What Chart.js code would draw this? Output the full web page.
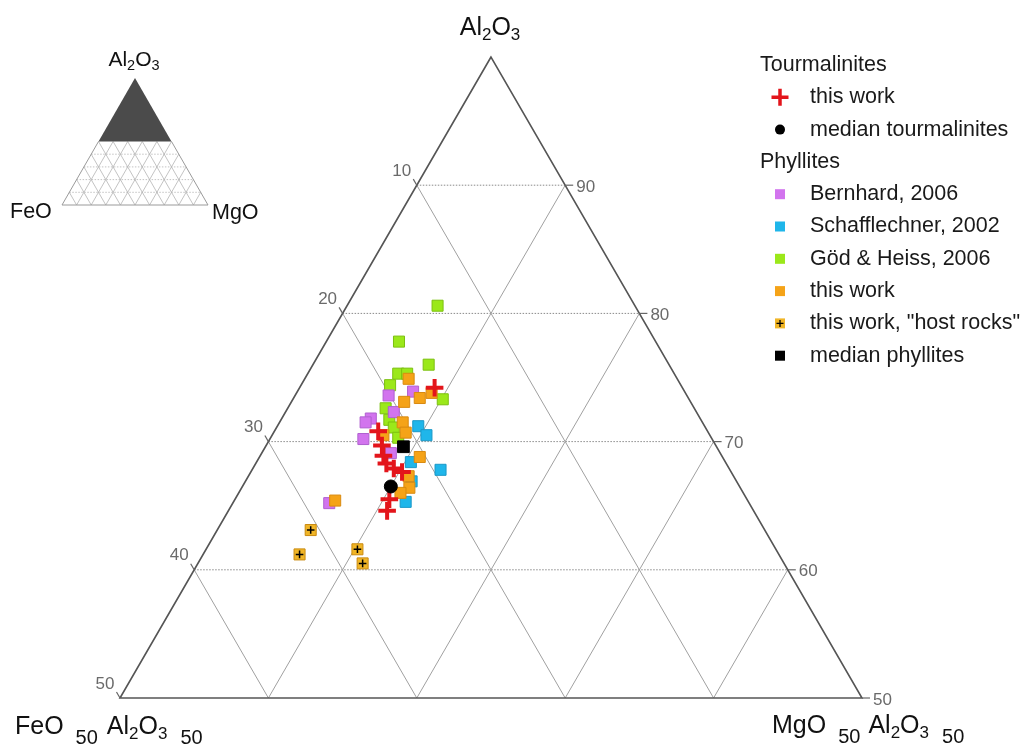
<!DOCTYPE html>
<html>
<head>
<meta charset="utf-8">
<script src="https://cdn.jsdelivr.net/npm/chart.js@4.4.0/dist/chart.umd.min.js"></script>
<style>
html,body{margin:0;padding:0;background:#ffffff;}
#wrap{width:1027px;height:747px;position:relative;}
</style>
</head>
<body>
<div id="wrap"><canvas id="c" width="1027" height="747"></canvas></div>
<script>
// ---- DATA: compositions as [FeO, MgO, Al2O3] (normalised %) ----
const tourmalinitesThisWork = [
  [16.7,9.1,74.2],[22.2,7.0,70.8],[22.5,7.8,69.7],[22.8,8.3,68.9],[22.9,8.8,68.3],
  [22.6,9.5,67.9],[22.2,10.2,67.7],[24.1,10.4,65.5],[24.7,10.7,64.6]
];
const medianTourmalinites = [[23.5,10.0,66.5]];
const bernhard2006 = [
  [20.1,6.3,73.6],[18.3,7.8,73.9],[20.4,7.3,72.3],[22.2,6.0,71.8],[22.7,5.8,71.5],
  [23.5,6.3,70.2],[22.2,8.7,69.1],[28.3,6.5,65.2]
];
const schafflechner2002 = [
  [19.3,9.5,71.2],[19.1,10.4,70.5],[19.5,12.7,67.8],[21.2,10.4,68.4],[21.9,11.2,66.9],[23.1,11.6,65.3]
];
const godHeiss2006 = [
  [13.3,6.1,80.6],[17.3,4.9,77.8],[16.2,7.8,76.0],[18.6,6.1,75.3],[18.0,6.7,75.3],
  [19.6,6.0,74.4],[16.6,10.1,73.3],[20.8,6.6,72.6],[21.0,7.3,71.7],[21.0,7.9,71.1],[21.1,8.6,70.3]
];
const phyllitesThisWork = [
  [18.1,7.0,74.9],[17.1,9.1,73.8],[18.1,8.5,73.4],[19.3,7.6,73.1],[20.2,8.3,71.5],[20.4,8.9,70.7],
  [22.0,7.5,70.5],[20.4,10.8,68.8],[21.9,10.8,67.3],[22.3,11.3,66.4],[23.1,10.9,66.0],[27.8,6.8,65.4]
];
const hostRocks = [[30.6,6.3,63.1],[32.3,6.5,61.2],[28.2,10.2,61.6],[28.4,11.1,60.5]];
const medianPhyllites = [[21.1,9.3,69.6]];

// grid / tick values
const al2o3GridLines = [90,80,70,60];
const feoGridLines = [10,20,30,40];
const mgoGridLines = [10,20,30,40];
const leftTickLabels = [10,20,30,40,50];   // FeO along left edge
const rightTickLabels = [90,80,70,60,50];  // Al2O3 along right edge

const FONT = '"Liberation Sans", Arial, Helvetica, sans-serif';

function toXY(c){ const s=c[0]+c[1]+c[2]; return {x:(c[1]-c[0])*100/s, y:c[2]*100/s}; }

const COL = {
  red:'#e3151b', purple:'#d274ee', blue:'#1fb6ea', green:'#9be81a', orange:'#f5a318', host:'#f0b526'
};

function P(chart,F,M,A){
  const s=F+M+A;
  return [chart.scales.x.getPixelForValue((M-F)*100/s), chart.scales.y.getPixelForValue(A*100/s)];
}

function drawRich(ctx, parts, x, y, align){
  const widths = parts.map(p=>{ctx.font=p[1]+'px '+FONT; return ctx.measureText(p[0]).width;});
  let total=0; parts.forEach((p,i)=>{ total += widths[i] + (p[3]||0); });
  let cx = align==='center' ? x-total/2 : x;
  ctx.textAlign='left'; ctx.textBaseline='alphabetic';
  parts.forEach((p,i)=>{ cx += (p[3]||0); ctx.font=p[1]+'px '+FONT; ctx.fillText(p[0], cx, y+(p[2]||0)); cx += widths[i]; });
}

const ternaryFrame = {
  id:'ternaryFrame',
  beforeDatasetsDraw(chart){
    const ctx=chart.ctx;
    ctx.save();
    // horizontal (Al2O3) grid lines, dotted
    ctx.strokeStyle='#8a8a8a'; ctx.lineWidth=1; ctx.setLineDash([1.5,1.5]);
    al2o3GridLines.forEach(a=>{
      const p1=P(chart,100-a,0,a), p2=P(chart,0,100-a,a);
      ctx.beginPath(); ctx.moveTo(p1[0],p1[1]); ctx.lineTo(p2[0],p2[1]); ctx.stroke();
    });
    // diagonal grid lines
    ctx.setLineDash([]); ctx.strokeStyle='#a0a0a0'; ctx.lineWidth=1;
    feoGridLines.forEach(f=>{
      const p1=P(chart,f,0,100-f), p2=P(chart,f,50-f,50);
      ctx.beginPath(); ctx.moveTo(p1[0],p1[1]); ctx.lineTo(p2[0],p2[1]); ctx.stroke();
    });
    mgoGridLines.forEach(m=>{
      const p1=P(chart,0,m,100-m), p2=P(chart,50-m,m,50);
      ctx.beginPath(); ctx.moveTo(p1[0],p1[1]); ctx.lineTo(p2[0],p2[1]); ctx.stroke();
    });
    // outline
    const T=P(chart,0,0,100), L=P(chart,50,0,50), R=P(chart,0,50,50);
    ctx.strokeStyle='#555555'; ctx.lineWidth=1.6;
    ctx.beginPath(); ctx.moveTo(T[0],T[1]); ctx.lineTo(L[0],L[1]); ctx.lineTo(R[0],R[1]); ctx.closePath(); ctx.stroke();
    // left ticks + labels
    ctx.fillStyle='#6a6a6a'; ctx.font='17px '+FONT; ctx.textAlign='center'; ctx.textBaseline='middle';
    ctx.strokeStyle='#666'; ctx.lineWidth=1.2;
    leftTickLabels.forEach(f=>{
      const e=P(chart,f,0,100-f), q=P(chart,f,10,90-f);
      const dx=e[0]-q[0], dy=e[1]-q[1], n=Math.hypot(dx,dy);
      ctx.beginPath(); ctx.moveTo(e[0],e[1]); ctx.lineTo(e[0]+dx/n*7,e[1]+dy/n*7); ctx.stroke();
      ctx.fillText(String(f), e[0]-15, e[1]-14);
    });
    ctx.textAlign='left';
    rightTickLabels.forEach(a=>{
      const e=P(chart,0,100-a,a);
      ctx.beginPath(); ctx.moveTo(e[0],e[1]); ctx.lineTo(e[0]+8,e[1]); ctx.stroke();
      ctx.fillText(String(a), e[0]+11, e[1]+2);
    });
    ctx.restore();
  },
  afterDraw(chart){
    const ctx=chart.ctx;
    ctx.save();
    ctx.fillStyle='#111';
    // apex & corner titles
    drawRich(ctx, [['Al',25,0],['2',17,5],['O',25,0],['3',17,5]], 490, 35, 'center');
    drawRich(ctx, [['FeO',25,0],['50',20,10,12],['Al',25,0,9],['2',17,5],['O',25,0],['3',17,5],['50',20,10,13]], 15, 734, 'left');
    drawRich(ctx, [['MgO',25,0],['50',20,10,12],['Al',25,0,8],['2',17,5],['O',25,0],['3',17,5],['50',20,10,13]], 772, 733, 'left');

    // inset triangle
    const iT=[135,78], iL=[62,205], iR=[208,205];
    const ip=(F,M,A)=>{const s=F+M+A; return [(F*iL[0]+M*iR[0]+A*iT[0])/s,(F*iL[1]+M*iR[1]+A*iT[1])/s];};
    ctx.strokeStyle='#b4b4b4'; ctx.lineWidth=0.8;
    for(let k=10;k<=90;k+=10){
      let a1=ip(k,100-k,0), a2 = (100-k>50)? ip(k,50-k,50) : ip(k,0,100-k);
      ctx.beginPath(); ctx.moveTo(a1[0],a1[1]); ctx.lineTo(a2[0],a2[1]); ctx.stroke();
      let b1=ip(100-k,k,0), b2 = (100-k>50)? ip(50-k,k,50) : ip(0,k,100-k);
      ctx.beginPath(); ctx.moveTo(b1[0],b1[1]); ctx.lineTo(b2[0],b2[1]); ctx.stroke();
    }
    ctx.setLineDash([1.5,1.5]);
    [10,20,30,40].forEach(a=>{ const c1=ip(100-a,0,a), c2=ip(0,100-a,a);
      ctx.beginPath(); ctx.moveTo(c1[0],c1[1]); ctx.lineTo(c2[0],c2[1]); ctx.stroke(); });
    ctx.setLineDash([]);
    ctx.strokeStyle='#9a9a9a'; ctx.lineWidth=1;
    const m1=ip(50,0,50), m2=ip(0,50,50);
    ctx.beginPath(); ctx.moveTo(m1[0],m1[1]); ctx.lineTo(iL[0],iL[1]); ctx.lineTo(iR[0],iR[1]); ctx.lineTo(m2[0],m2[1]); ctx.stroke();
    ctx.fillStyle='#4b4b4b';
    ctx.beginPath(); ctx.moveTo(iT[0],iT[1]); ctx.lineTo(m1[0],m1[1]); ctx.lineTo(m2[0],m2[1]); ctx.closePath(); ctx.fill();
    ctx.fillStyle='#111';
    drawRich(ctx, [['Al',21,0],['2',14.5,4],['O',21,0],['3',14.5,4]], 134, 66, 'center');
    drawRich(ctx, [['FeO',21.5,0]], 10, 218, 'left');
    drawRich(ctx, [['MgO',21.5,0]], 212, 219, 'left');

    // legend
    const lx=760, mx=780, tx=810, y0=65, dy=32.3;
    const rows=[
      {h:'Tourmalinites'},
      {t:'this work', m:'cross'},
      {t:'median tourmalinites', m:'dot'},
      {h:'Phyllites'},
      {t:'Bernhard, 2006', m:'sq', c:COL.purple},
      {t:'Schafflechner, 2002', m:'sq', c:COL.blue},
      {t:'Göd & Heiss, 2006', m:'sq', c:COL.green},
      {t:'this work', m:'sq', c:COL.orange},
      {t:'this work, "host rocks"', m:'host'},
      {t:'median phyllites', m:'sq', c:'#000'}
    ];
    ctx.font='21.5px '+FONT; ctx.textBaseline='middle'; ctx.textAlign='left';
    rows.forEach((r,i)=>{
      const y=y0+i*dy;
      ctx.fillStyle='#1a1a1a';
      if(r.h){ ctx.fillText(r.h, lx, y); return; }
      ctx.fillText(r.t, tx, y);
      if(r.m==='cross'){
        ctx.strokeStyle=COL.red; ctx.lineWidth=3.5;
        ctx.beginPath(); ctx.moveTo(mx-8.5,y); ctx.lineTo(mx+8.5,y); ctx.moveTo(mx,y-8.5); ctx.lineTo(mx,y+8.5); ctx.stroke();
      } else if(r.m==='dot'){
        ctx.fillStyle='#000'; ctx.beginPath(); ctx.arc(mx,y,5,0,Math.PI*2); ctx.fill();
      } else if(r.m==='sq'){
        ctx.fillStyle=r.c; ctx.fillRect(mx-5,y-5,10,10);
      } else if(r.m==='host'){
        ctx.fillStyle=COL.host; ctx.fillRect(mx-5,y-5,10,10);
        ctx.strokeStyle='#000'; ctx.lineWidth=1.3;
        ctx.beginPath(); ctx.moveTo(mx-3.5,y); ctx.lineTo(mx+3.5,y); ctx.moveTo(mx,y-3.5); ctx.lineTo(mx,y+3.5); ctx.stroke();
      }
    });
    ctx.restore();
  }
};

function sq(label, arr, color, border){
  return {label, data:arr.map(toXY), pointStyle:'rect', pointRadius:7.8, pointHoverRadius:7.8,
          backgroundColor:color, borderColor:border, borderWidth:1, showLine:false};
}

const datasets = [
  {label:'median phyllites', data:medianPhyllites.map(toXY), pointStyle:'rect', pointRadius:8.3, backgroundColor:'#000', borderColor:'#000', borderWidth:1},
  {label:'median tourmalinites', data:medianTourmalinites.map(toXY), pointStyle:'circle', pointRadius:6.5, backgroundColor:'#000', borderColor:'#000', borderWidth:1},
  {label:'this work (tourmalinites)', data:tourmalinitesThisWork.map(toXY), pointStyle:'cross', pointRadius:8.8, borderColor:COL.red, backgroundColor:COL.red, borderWidth:4},
  {label:'host rocks plus', data:hostRocks.map(toXY), pointStyle:'cross', pointRadius:3.8, borderColor:'#000', backgroundColor:'#000', borderWidth:1.5},
  sq('this work, "host rocks"', hostRocks, COL.host, '#c98a10'),
  sq('this work (phyllites)', phyllitesThisWork, COL.orange, '#d98a10'),
  sq('Schafflechner, 2002', schafflechner2002, COL.blue, '#1a98c8'),
  sq('Bernhard, 2006', bernhard2006, COL.purple, '#b060d0'),
  sq('Göd & Heiss, 2006', godHeiss2006, COL.green, '#7cc010')
];

new Chart(document.getElementById('c'), {
  type:'scatter',
  data:{datasets},
  options:{
    responsive:false, animation:false, devicePixelRatio:1,
    layout:{padding:0, autoPadding:false},
    plugins:{legend:{display:false}, tooltip:{enabled:false}},
    scales:{
      x:{type:'linear', min:-66.172, max:72.238, display:false},
      y:{type:'linear', min:46.178, max:104.446, display:false}
    }
  },
  plugins:[ternaryFrame]
});
</script>
</body>
</html>
